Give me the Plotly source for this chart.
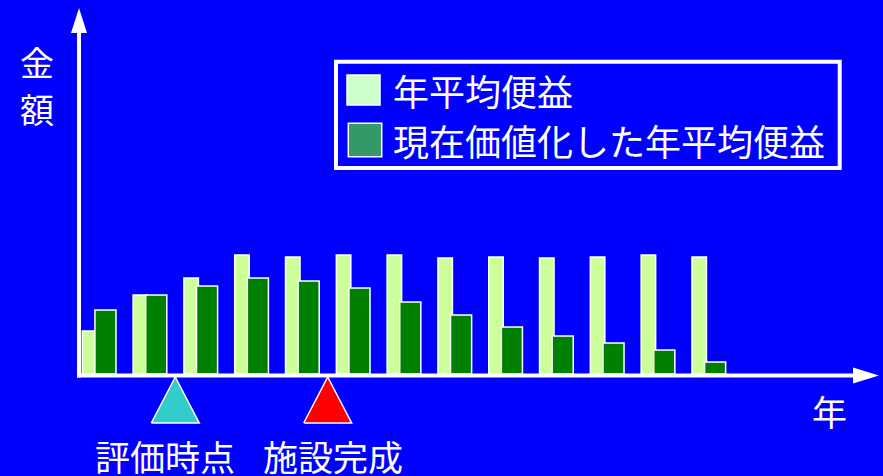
import plotly.graph_objects as go

# ---- data -------------------------------------------------------------
years = list(range(1, 14))
annual_benefit = [43, 79, 96, 119, 117, 119, 119, 116, 117, 116, 117, 119, 117]
present_value = [64, 79, 88, 96, 93, 86, 72, 59, 47, 38, 31, 24, 12]

event_years = [2.5, 5.5]
event_labels = ["評価時点", "施設完成"]
event_colors = ["#33cccc", "#ff0000"]

legend_labels = ["年平均便益", "現在価値化した年平均便益"]
legend_colors = ["#ccffcc", "#339966"]
y_title = ["金", "額"]
x_title = "年"

# ---- styling ----------------------------------------------------------
W, H = 883, 476
BG = "#0000ff"
FONT = "Noto Sans CJK JP"
LIGHT = "#ccff99"
DARK = "#008000"


def px(x):
    return x / W


def py(y):
    return 1 - y / H


fig = go.Figure()

fig.add_bar(
    x=years, y=annual_benefit, width=0.285, offset=-0.33,
    marker=dict(color=LIGHT, line=dict(color="white", width=1.5)),
    name=legend_labels[0], hoverinfo="skip",
)
fig.add_bar(
    x=years, y=present_value, width=0.415, offset=-0.082,
    marker=dict(color=DARK, line=dict(color="white", width=1.5)),
    name=legend_labels[1], hoverinfo="skip",
)

# event markers below the time axis
half_w, top_v, base_v = 0.472, -3, -49
for yr, col in zip(event_years, event_colors):
    fig.add_scatter(
        x=[yr - half_w, yr, yr + half_w, yr - half_w],
        y=[base_v, top_v, base_v, base_v],
        mode="lines", fill="toself", fillcolor=col,
        line=dict(color="white", width=1.5), hoverinfo="skip",
    )

annotations = []
for xc, lab in zip([165, 333], event_labels):
    annotations.append(dict(
        x=px(xc), y=py(455), xref="paper", yref="paper", text=lab,
        showarrow=False, xanchor="center", yanchor="middle",
        font=dict(family=FONT, size=35, color="white"),
    ))

for yc, ch in zip([62, 109], y_title):
    annotations.append(dict(
        x=px(37), y=py(yc), xref="paper", yref="paper", text=ch,
        showarrow=False, xanchor="center", yanchor="middle",
        font=dict(family=FONT, size=34, color="white"),
    ))
annotations.append(dict(
    x=px(829), y=py(410), xref="paper", yref="paper", text=x_title,
    showarrow=False, xanchor="center", yanchor="middle",
    font=dict(family=FONT, size=35, color="white"),
))

shapes = []
# axes with arrowheads
shapes.append(dict(type="line", xref="paper", yref="paper",
                   x0=px(77), x1=px(856), y0=py(375.5), y1=py(375.5),
                   line=dict(color="white", width=4)))
shapes.append(dict(type="path", xref="paper", yref="paper",
                   path=f"M {px(853)} {py(367.5)} L {px(879)} {py(375.5)} L {px(853)} {py(383.5)} Z",
                   fillcolor="white", line=dict(color="white", width=0)))
shapes.append(dict(type="line", xref="paper", yref="paper",
                   x0=px(79), x1=px(79), y0=py(377.5), y1=py(30),
                   line=dict(color="white", width=4)))
shapes.append(dict(type="path", xref="paper", yref="paper",
                   path=f"M {px(71)} {py(33)} L {px(79)} {py(8)} L {px(87)} {py(33)} Z",
                   fillcolor="white", line=dict(color="white", width=0)))

# legend box
shapes.append(dict(type="rect", xref="paper", yref="paper",
                   x0=px(336), x1=px(839.7), y0=py(61.7), y1=py(168),
                   line=dict(color="white", width=4), fillcolor="rgba(0,0,0,0)"))
legend_rows = [(347, 380, 75, 105, 90), (348.3, 381.7, 123.3, 156.7, 140)]
for (x0, x1, y0, y1, yc), lab, col in zip(legend_rows, legend_labels, legend_colors):
    shapes.append(dict(type="rect", xref="paper", yref="paper",
                       x0=px(x0), x1=px(x1), y0=py(y0), y1=py(y1),
                       fillcolor=col, line=dict(color="white", width=1.5)))
    annotations.append(dict(
        x=px(391), y=py(yc), xref="paper", yref="paper", text=lab,
        showarrow=False, xanchor="left", yanchor="middle",
        font=dict(family=FONT, size=36, color="white"),
    ))

fig.update_layout(
    width=W, height=H,
    margin=dict(l=0, r=0, t=0, b=0),
    paper_bgcolor=BG, plot_bgcolor=BG,
    barmode="overlay", showlegend=False,
    xaxis=dict(range=[-0.95, 16.43], visible=False, fixedrange=True),
    yaxis=dict(range=[-102, 374], visible=False, fixedrange=True),
    shapes=shapes, annotations=annotations,
    font=dict(family=FONT, color="white"),
)

fig.write_html("out.html", config={"displayModeBar": False})
